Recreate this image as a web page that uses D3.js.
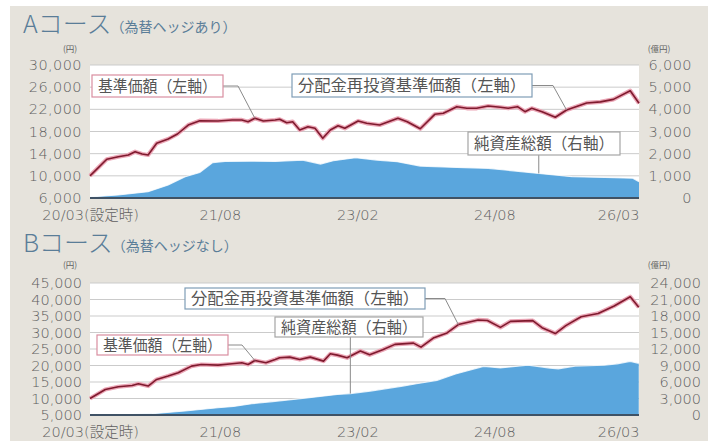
<!DOCTYPE html>
<html><head><meta charset="utf-8">
<script src="https://cdn.jsdelivr.net/npm/d3@7"></script>
<style>body{margin:0;background:#fff}svg{display:block}</style>
</head><body><svg id="c" width="708" height="441"></svg>
<script>
// ---------- data ----------
const xTickDates  = ["2020-03-01","2021-08-01","2023-02-01","2024-08-01","2026-03-01"];
const xTickLabels = ["20/03(設定時)","21/08","23/02","24/08","26/03"];

// Aコース 基準価額 (円)
const aNavDates = ["2020-03-01","2020-05-07","2020-06-22","2020-08-01","2020-08-28","2020-09-25","2020-10-19","2020-11-22","2021-01-07","2021-02-13",
"2021-03-28","2021-05-13","2021-07-25","2021-09-19","2021-10-28","2021-11-22","2021-12-19","2022-01-22","2022-03-10","2022-03-28",
"2022-04-25","2022-05-19","2022-06-16","2022-07-19","2022-08-16","2022-09-16","2022-10-16","2022-11-16","2022-12-13","2023-02-04",
"2023-03-10","2023-05-01","2023-07-13","2023-08-19","2023-10-10","2023-12-07","2024-01-10","2024-03-04","2024-04-13","2024-05-22",
"2024-07-07","2024-08-25","2024-09-25","2024-11-01","2024-12-01","2024-12-28","2025-02-07","2025-04-01","2025-05-16","2025-08-04",
"2025-09-28","2025-11-19","2026-01-25","2026-03-01"];
const aNav = [10000,12990,13450,13760,14360,13940,13760,15870,16650,17550,
19170,19950,19900,20080,20080,19770,20380,19900,20080,20200,
19590,19770,18270,18870,18580,16770,18270,19050,18580,19900,
19480,19170,20380,19770,18500,21100,21280,22480,22190,22190,
22600,22370,22190,22480,21580,22190,21580,20570,21880,23150,
23350,23800,25360,23090];
// 分配金再投資基準価額: no distributions, identical to 基準価額
const aNavReinvested = aNav;

// Aコース 純資産総額 (億円)
const aAssetDates = ["2020-03-01","2020-06-22","2020-10-19","2021-01-07","2021-03-16","2021-05-13","2021-07-04","2021-08-22","2021-12-01","2022-03-10",
"2022-06-28","2022-09-07","2022-10-28","2023-01-25","2023-04-19","2023-07-10","2023-10-10","2024-03-04","2024-07-07","2025-01-25",
"2025-06-07","2025-10-16","2026-02-04","2026-03-01"];
const aAssets = [50,135,285,585,960,1150,1600,1650,1660,1650,
1710,1530,1680,1820,1710,1640,1440,1380,1340,1110,
960,930,890,740];

// Bコース 基準価額 (円)
const bNavDates = ["2020-03-01","2020-05-01","2020-06-22","2020-08-16","2020-09-10","2020-10-19","2020-11-22","2021-01-07","2021-02-16","2021-04-10",
"2021-05-19","2021-07-25","2021-09-19","2021-10-28","2021-11-22","2021-12-19","2022-02-01","2022-03-10","2022-03-28","2022-05-07",
"2022-06-16","2022-07-28","2022-09-19","2022-10-16","2022-11-13","2022-12-22","2023-02-13","2023-03-22","2023-05-13","2023-07-01",
"2023-09-13","2023-10-13","2023-12-01","2024-01-25","2024-03-10","2024-05-28","2024-07-04","2024-08-25","2024-10-04","2025-01-01",
"2025-02-07","2025-04-01","2025-05-13","2025-07-13","2025-09-19","2025-11-22","2026-01-25","2026-02-28"];
const bNav = [10000,12740,13560,13950,14470,13770,15770,16790,17790,19820,
20300,20120,20510,20820,20300,21510,20820,21810,22330,22540,
21810,22540,21330,23540,23140,22330,24400,23240,24760,26400,
26770,25560,28300,29880,32400,33800,33650,31550,33360,33610,
31450,29690,32100,34780,35780,38050,40830,37650];
const bNavReinvested = bNav;

// Bコース 純資産総額 (億円)
const bAssetDates = ["2020-03-01","2020-11-04","2021-03-16","2021-07-25","2021-09-25","2021-12-07","2022-02-19","2022-06-28","2022-11-13","2023-01-04",
"2023-03-25","2023-08-01","2023-09-25","2023-12-16","2024-02-28","2024-06-19","2024-08-25","2024-12-13","2025-03-10","2025-04-13",
"2025-06-19","2025-10-13","2025-12-04","2026-01-25","2026-02-28"];
const bAssets = [100,250,730,1320,1560,2050,2400,3010,3740,3900,
4350,5260,5680,6300,7450,8850,8560,9070,8530,8400,
8900,9050,9300,9760,9400];

const aLeftTicks  = [6000,10000,14000,18000,22000,26000,30000];
const aRightTicks = [0,1000,2000,3000,4000,5000,6000];
const bLeftTicks  = [5000,10000,15000,20000,25000,30000,35000,40000,45000];
const bRightTicks = [0,3000,6000,9000,12000,15000,18000,21000,24000];

// ---------- drawing ----------
const parse = d3.timeParse("%Y-%m-%d");
const svg = d3.select("#c");
const NUM_FONT = "'DejaVu Sans', sans-serif";
const JP_FONT = "'Noto Sans CJK JP', 'Noto Sans', sans-serif";
const C = {bg:"#e6e3dc", grid:"#cbcbcb", area:"#5aa6dd", line:"#7f1a2e", halo:"#eba6b6",
           tick:"#5f5f5f", title:"#5a7d98", axis:"#3f5265"};

svg.append("rect").attr("x",10).attr("y",6).attr("width",698).attr("height",435).attr("fill",C.bg);

const L = 90, R = 639;
const x = d3.scaleTime().domain([parse(xTickDates[0]), parse(xTickDates[xTickDates.length-1])]).range([L, R]);

function panel(cfg){
  const g = svg.append("g");
  const yL = d3.scaleLinear().domain([cfg.leftTicks[0], cfg.leftTicks[cfg.leftTicks.length-1]]).range([cfg.bottom, cfg.top]);
  const yR = d3.scaleLinear().domain([cfg.rightTicks[0], cfg.rightTicks[cfg.rightTicks.length-1]]).range([cfg.bottom, cfg.top]);

  g.append("rect").attr("x",L).attr("y",cfg.top).attr("width",R-L).attr("height",cfg.bottom-cfg.top).attr("fill","#fff");
  g.selectAll("line.grid").data(cfg.leftTicks.slice(1)).join("line")
    .attr("x1",L).attr("x2",R).attr("y1",d=>yL(d)).attr("y2",d=>yL(d))
    .attr("stroke",C.grid).attr("stroke-width",1);

  const assets = cfg.assetDates.map((d,i)=>({date:parse(d), v:cfg.assets[i]}));
  const area = d3.area().x(d=>x(d.date)).y0(cfg.bottom).y1(d=>yR(d.v));
  g.append("path").attr("d",area(assets)).attr("fill",C.area);
  g.append("path").attr("d",d3.line().x(d=>x(d.date)).y(d=>yR(d.v))(assets))
    .attr("fill","none").attr("stroke","#fff").attr("stroke-width",1.2).attr("opacity",0.8);

  g.append("line").attr("x1",L).attr("x2",R).attr("y1",cfg.bottom).attr("y2",cfg.bottom)
    .attr("stroke",C.axis).attr("stroke-width",2);

  const nav = cfg.navDates.map((d,i)=>({date:parse(d), v:cfg.nav[i]}));
  const reinv = cfg.navDates.map((d,i)=>({date:parse(d), v:cfg.reinv[i]}));
  const ln = d3.line().x(d=>x(d.date)).y(d=>yL(d.v));
  g.append("path").attr("d",ln(nav)).attr("fill","none").attr("stroke",C.halo).attr("stroke-width",4.2).attr("stroke-linejoin","round");
  g.append("path").attr("d",ln(reinv)).attr("fill","none").attr("stroke",C.line).attr("stroke-width",1.6).attr("stroke-linejoin","round");

  // axes
  const fmt = d3.format(",");
  const la = g.append("g").attr("transform",`translate(82,0)`)
    .call(d3.axisLeft(yL).tickValues(cfg.leftTicks).tickSize(0).tickPadding(0).tickFormat(fmt));
  const ra = g.append("g").attr("transform",`translate(${cfg.rightX},0)`)
    .call(d3.axisLeft(yR).tickValues(cfg.rightTicks).tickSize(0).tickPadding(0).tickFormat(fmt));
  const xa = g.append("g").attr("transform",`translate(0,${cfg.bottom})`)
    .call(d3.axisBottom(x).tickValues(xTickDates.map(parse)).tickSize(0).tickPadding(12)
      .tickFormat((d,i)=>xTickLabels[i]));
  [la,ra,xa].forEach(a=>{
    a.select(".domain").remove();
    a.selectAll("text").attr("font-family",NUM_FONT+", "+JP_FONT).attr("font-size",cfg.tickSize)
      .attr("fill",C.tick).attr("font-weight",200).attr("letter-spacing",cfg.ls);
  });
  xa.selectAll("text").attr("font-size",14.5).attr("letter-spacing",0);
  xa.selectAll(".tick").filter((d,i)=>i===xTickDates.length-1).select("text").attr("text-anchor","end");

  // title
  const t = g.append("text").attr("x",23).attr("y",cfg.titleY).attr("fill",C.title).attr("font-family",JP_FONT);
  t.append("tspan").text(cfg.title).attr("font-size",25).attr("font-weight",300);
  t.append("tspan").text(cfg.subtitle).attr("font-size",14).attr("dx",-1).attr("dy",-1);

  g.append("text").text("(円)").attr("x",70).attr("y",cfg.unitY).attr("text-anchor","middle")
    .attr("font-size",8.5).attr("fill",C.tick).attr("font-family",JP_FONT);
  g.append("text").text("(億円)").attr("x",659).attr("y",cfg.unitY).attr("text-anchor","middle")
    .attr("font-size",8.5).attr("fill",C.tick).attr("font-family",JP_FONT);

  // callouts
  cfg.callouts.forEach(c=>{
    let tx, ty;
    if(c.target.series==="nav"){ tx = x(nav[c.target.i].date); ty = yL(nav[c.target.i].v); }
    else { tx = x(assets[c.target.i].date); ty = yR(assets[c.target.i].v); }
    let pts;
    if(c.kind==="vert") pts = [[tx, c.y+c.h],[tx, ty]];
    else pts = [[c.x+c.w, c.y+c.h/2],[c.x+c.w+c.run, c.y+c.h/2],[tx, ty]];
    g.append("path").attr("d",d3.line()(pts)).attr("fill","none").attr("stroke","#8a8a8a").attr("stroke-width",1);
    g.append("rect").attr("x",c.x).attr("y",c.y).attr("width",c.w).attr("height",c.h)
      .attr("fill","#fff").attr("stroke",c.stroke).attr("stroke-width",1.2);
    g.append("text").text(c.text).attr("x",c.x+c.w/2).attr("y",c.y+c.h/2).attr("dy","0.36em")
      .attr("text-anchor","middle").attr("font-family",JP_FONT).attr("font-size",c.fs)
      .attr("fill","#555").attr("textLength",c.w-12).attr("lengthAdjust","spacingAndGlyphs");
  });
}

panel({
  top:65, bottom:198, rightX:692, titleY:33, unitY:52, tickSize:14.5, ls:0.4,
  title:"Aコース", subtitle:"（為替ヘッジあり）",
  leftTicks:aLeftTicks, rightTicks:aRightTicks,
  navDates:aNavDates, nav:aNav, reinv:aNavReinvested,
  assetDates:aAssetDates, assets:aAssets,
  callouts:[
    {text:"基準価額（左軸）", x:92, y:75, w:131, h:22, fs:16, stroke:"#d98ea0", run:15, target:{series:"nav", i:16}},
    {text:"分配金再投資基準価額（左軸）", x:292, y:74, w:240, h:23, fs:16, stroke:"#7f9db6", run:21, target:{series:"nav", i:48}},
    {text:"純資産総額（右軸）", x:468, y:132, w:152, h:23, fs:16, stroke:"#a5a5a5", kind:"vert", target:{series:"assets", i:19}}
  ]
});
panel({
  top:283, bottom:415, rightX:701, titleY:252, unitY:268, tickSize:14.5, ls:0,
  title:"Bコース", subtitle:"（為替ヘッジなし）",
  leftTicks:bLeftTicks, rightTicks:bRightTicks,
  navDates:bNavDates, nav:bNav, reinv:bNavReinvested,
  assetDates:bAssetDates, assets:bAssets,
  callouts:[
    {text:"分配金再投資基準価額（左軸）", x:185, y:288, w:240, h:21, fs:16, stroke:"#7f9db6", run:20, target:{series:"nav", i:34}},
    {text:"純資産総額（右軸）", x:275, y:317, w:148, h:20, fs:16, stroke:"#a5a5a5", kind:"vert", target:{series:"assets", i:9}},
    {text:"基準価額（左軸）", x:97, y:335, w:131, h:20, fs:16, stroke:"#d98ea0", run:14, target:{series:"nav", i:15}}
  ]
});
</script></body></html>
